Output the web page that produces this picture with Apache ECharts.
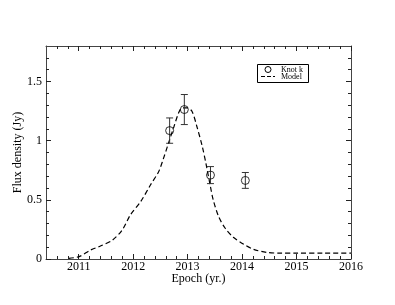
<!DOCTYPE html>
<html>
<head>
<meta charset="utf-8">
<script src="https://cdn.jsdelivr.net/npm/echarts@6/dist/echarts.min.js"></script>
<style>html,body{margin:0;padding:0;background:#fff}#c{width:395px;height:305px}</style>
</head>
<body>
<div id="c"></div>
<script>
// ---- data ----
var knotX = [2012.67, 2012.94, 2013.42, 2014.06];
var knotY = [1.085, 1.263, 0.709, 0.664];
var knotErr = [0.107, 0.127, 0.072, 0.067];
var modelX = [2010.82, 2011.01, 2011.22, 2011.40, 2011.62, 2011.80, 2011.95, 2012.14, 2012.32, 2012.47, 2012.55, 2012.65, 2012.75, 2012.84, 2012.90, 2012.99, 2013.08, 2013.17, 2013.27, 2013.34, 2013.42, 2013.47, 2013.57, 2013.69, 2013.84, 2014.03, 2014.21, 2014.46, 2014.7, 2015.0, 2015.5, 2016.0];
var modelY = [0.006, 0.02, 0.076, 0.11, 0.16, 0.246, 0.373, 0.486, 0.627, 0.74, 0.84, 0.98, 1.12, 1.24, 1.277, 1.277, 1.248, 1.12, 0.95, 0.8, 0.61, 0.50, 0.358, 0.26, 0.184, 0.125, 0.082, 0.055, 0.05, 0.05, 0.05, 0.05];
var xMajor = [2011, 2012, 2013, 2014, 2015, 2016];
var xMinor = [];
(function(){ for (var y = 2010; y < 2016; y++) { for (var k = 1; k < 5; k++) { var v = +(y + k*0.2).toFixed(1); if (v > 2010.4) xMinor.push(v); } } })();
var yMajor = [0, 0.5, 1, 1.5];
var yMinor = [0.1,0.2,0.3,0.4,0.6,0.7,0.8,0.9,1.1,1.2,1.3,1.4,1.6,1.7];
var xLabels = ['2011','2012','2013','2014','2015','2016'];
var yLabels = ['0','0.5','1','1.5'];
var legendNames = ['Knot k', 'Model'];

var FONT = 'Liberation Serif';
var AX = '#444';
function xAx(pos, vals, len, labels, line) {
  return {
    type: 'value', position: pos, min: 2010.4, max: 2016, gridIndex: 0,
    axisLine: {show: line, onZero: false, lineStyle: {color: AX, width: 1}},
    axisTick: {show: true, inside: true, length: len, customValues: vals, lineStyle: {color: '#222'}},
    axisLabel: labels ? {show: true, customValues: vals, margin: 2, color: '#000', fontFamily: FONT, fontSize: 12,
      formatter: function(v){ var i = xMajor.indexOf(Math.round(v)); return i >= 0 ? xLabels[i] : ''; }} : {show: false},
    splitLine: {show: false}
  };
}
function yAx(pos, vals, len, labels, line) {
  return {
    type: 'value', position: pos, min: 0, max: 1.8, gridIndex: 0,
    axisLine: {show: line, onZero: false, lineStyle: {color: AX, width: 1}},
    axisTick: {show: true, inside: true, length: len, customValues: vals, lineStyle: {color: '#222'}},
    axisLabel: labels ? {show: true, customValues: vals, margin: 4, color: '#000', fontFamily: FONT, fontSize: 12,
      formatter: function(v){ var i = yMajor.indexOf(Math.round(v*10)/10); return i >= 0 ? yLabels[i] : ''; }} : {show: false},
    splitLine: {show: false}
  };
}
var xa0 = xAx('bottom', xMajor, 5, true, true);
xa0.name = 'Epoch (yr.)'; xa0.nameLocation = 'middle'; xa0.nameGap = 14; xa0.nameMoveOverlap = false;
xa0.nameTextStyle = {fontFamily: FONT, fontSize: 12, color: '#000', verticalAlign: 'top'};
var ya0 = yAx('left', yMajor, 5, true, true);
ya0.name = 'Flux density (Jy)'; ya0.nameLocation = 'middle'; ya0.nameGap = 22; ya0.nameMoveOverlap = false;
ya0.nameTextStyle = {fontFamily: FONT, fontSize: 12, color: '#000'};

var modelData = modelX.map(function(x, i){ return [x, modelY[i]]; });
var knotData = knotX.map(function(x, i){ return [x, knotY[i]]; });
var errData = knotX.map(function(x, i){ return [x, knotY[i] - knotErr[i], knotY[i] + knotErr[i]]; });

var chart = echarts.init(document.getElementById('c'), null, {renderer: 'canvas'});
chart.setOption({
  animation: false,
  backgroundColor: '#fff',
  grid: {left: 46, right: 44, top: 46, bottom: 46, containLabel: false},
  xAxis: [xa0, xAx('bottom', xMinor, 3, false, false), xAx('top', xMajor, 5, false, true), xAx('top', xMinor, 3, false, false)],
  yAxis: [ya0, yAx('left', yMinor, 3, false, false), yAx('right', yMajor, 5, false, true), yAx('right', yMinor, 3, false, false)],
  graphic: [
    {type: 'rect', left: 257, top: 64, shape: {width: 51, height: 18}, style: {fill: '#fff', stroke: '#000', lineWidth: 1}, z: 10},
    {type: 'circle', shape: {cx: 268, cy: 69.5, r: 3}, style: {fill: null, stroke: '#000', lineWidth: 1}, z: 11},
    {type: 'line', shape: {x1: 261, y1: 76.5, x2: 275, y2: 76.5}, style: {stroke: '#000', lineWidth: 1, lineDash: [4, 2]}, z: 11},
    {type: 'text', x: 281, y: 69.5, style: {text: legendNames[0], font: '8px "Liberation Serif"', fill: '#000', verticalAlign: 'middle'}, z: 11},
    {type: 'text', x: 281, y: 76.5, style: {text: legendNames[1], font: '8px "Liberation Serif"', fill: '#000', verticalAlign: 'middle'}, z: 11}
  ],
  series: [
    {
      name: 'Model', type: 'line', data: modelData, symbol: 'none', smooth: 0.3,
      lineStyle: {color: '#000', width: 1.2, type: [5, 3]}, itemStyle: {color: '#000'},
      z: 2
    },
    {
      name: 'err', type: 'custom', data: errData, z: 3,
      renderItem: function(params, api) {
        var x = api.value(0);
        var lo = api.coord([x, api.value(1)]);
        var hi = api.coord([x, api.value(2)]);
        var w = 3.5;
        var st = {stroke: '#333', lineWidth: 1, fill: null};
        return {type: 'group', children: [
          {type: 'line', shape: {x1: lo[0], y1: lo[1], x2: hi[0], y2: hi[1]}, style: st},
          {type: 'line', shape: {x1: lo[0]-w, y1: lo[1], x2: lo[0]+w, y2: lo[1]}, style: st},
          {type: 'line', shape: {x1: hi[0]-w, y1: hi[1], x2: hi[0]+w, y2: hi[1]}, style: st}
        ]};
      }
    },
    {
      name: 'Knot k', type: 'scatter', data: knotData, symbol: 'circle', symbolSize: 8,
      itemStyle: {color: 'rgba(255,255,255,0)', borderColor: '#000', borderWidth: 1}, z: 4
    }
  ]
});
</script>
</body>
</html>
